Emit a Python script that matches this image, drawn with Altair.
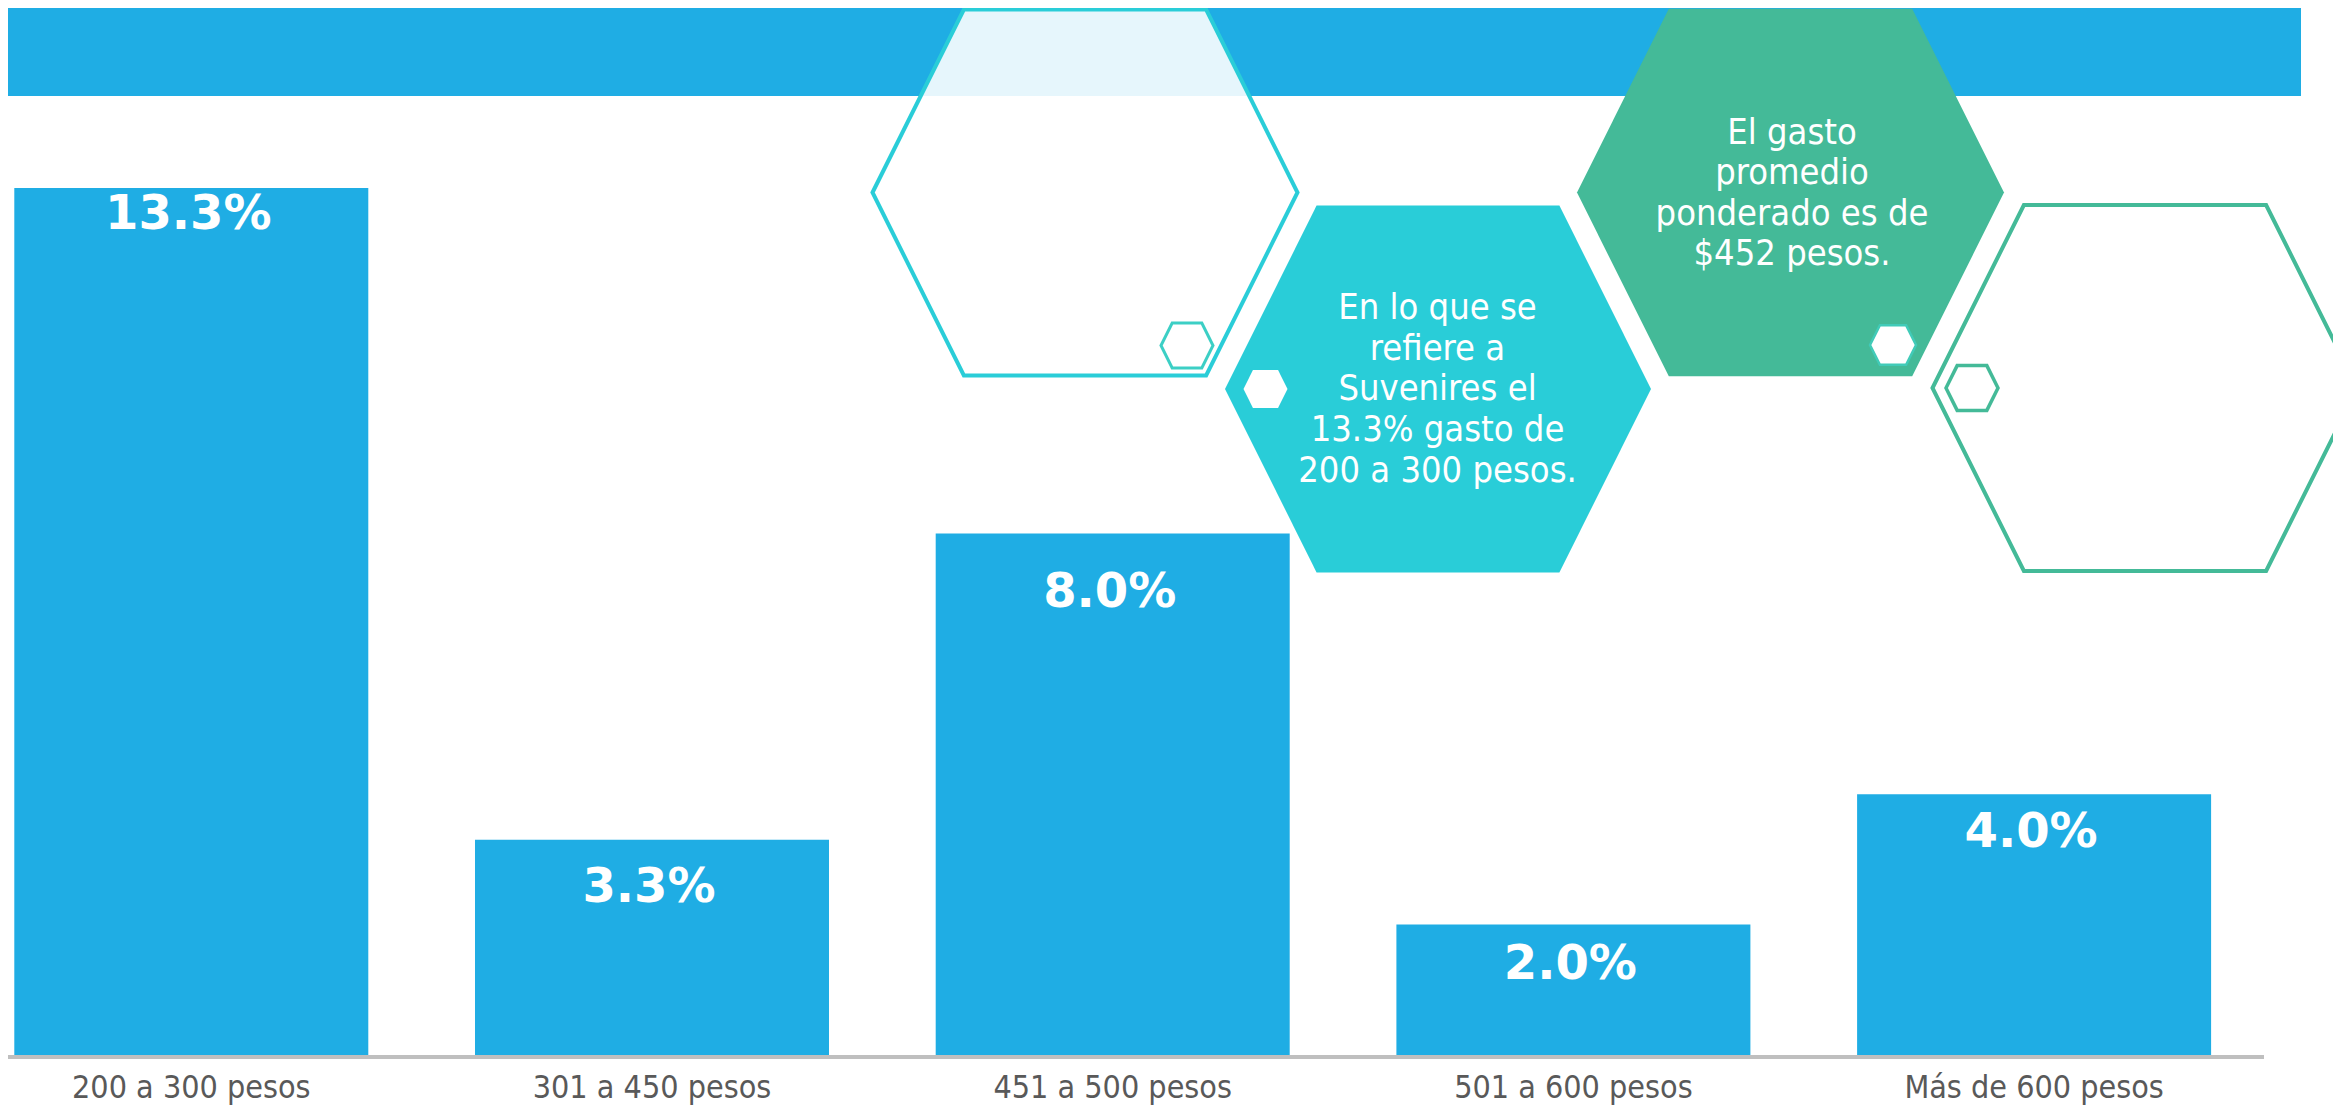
import altair as alt
import pandas as pd

# ---- data ----
categories = ["200 a 300 pesos", "301 a 450 pesos", "451 a 500 pesos",
              "501 a 600 pesos", "Más de 600 pesos"]
values = [13.3, 3.3, 8.0, 2.0, 4.0]
value_labels = ["13.3%", "3.3%", "8.0%", "2.0%", "4.0%"]

note_suvenires = ["En lo que se", "refiere a", "Suvenires el",
                  "13.3% gasto de", "200 a 300 pesos."]
note_promedio = ["El gasto", "promedio", "ponderado es de", "$452 pesos."]

# ---- layout / style constants ----
BLUE = "#1FADE4"
CYAN = "#29CDD8"
GREEN = "#44BA98"
label_drop = [41, 62, 74, 54, 53]   # px from bar top to value-label baseline
PLOT_W, PLOT_H = 2209.4, 1047
TOTAL_W, TOTAL_H = 2325, 1098
Y_MAX = 16.06
LABEL_FONT = "Tahoma, 'DejaVu Sans Condensed', 'Liberation Sans', Arial, sans-serif"
BOLD_FONT = "Verdana, 'DejaVu Sans', sans-serif"

HEX = "M-1,0L-0.57,-0.861L0.57,-0.861L1,0L0.57,0.861L-0.57,0.861Z"

bars_df = pd.DataFrame({
    "category": categories,
    "value": values,
    "label": value_labels,
    "drop": label_drop,
})

hex_df = pd.DataFrame({
    "cx":     [1077, 1430, 1782.5, 2137, 1179, 1257.5, 1885, 1964],
    "cy":     [184.5, 381, 184.5, 380, 337.5, 381, 337, 380],
    "w":      [425, 426, 427, 425, 52, 44, 46, 52],
    "fill":   ["#FFFFFF", CYAN, GREEN, "#FFFFFF", "#FFFFFF", "#FFFFFF", "#FFFFFF", "#FFFFFF"],
    "stroke": ["#2ACDD8", CYAN, GREEN, GREEN, "#3CCFC5", "#FFFFFF", "#41CBB8", GREEN],
    "sw":     [4, 0, 0, 4, 3, 0, 2.5, 3.5],
    "fo":     [0.89, 1, 1, 1, 1, 1, 1, 1],
})
hex_df["size"] = hex_df["w"] ** 2

one = pd.DataFrame({"k": [0]})

x_scale = alt.Scale(type="band", paddingInner=0.2316, paddingOuter=0.01367)
x_band = alt.X("category:N", sort=categories, axis=None, scale=x_scale)
y_scale = alt.Scale(domain=[0, Y_MAX], nice=False, zero=True)
y_lin = alt.Y("value:Q", axis=None, scale=y_scale)

banner = alt.Chart(one).mark_rect(color=BLUE).encode(
    x=alt.value(0), x2=alt.value(2293), y=alt.value(0), y2=alt.value(88))

bars = alt.Chart(bars_df).mark_bar(color=BLUE).encode(x=x_band, y=y_lin)

bar_labels = alt.Chart(bars_df).transform_calculate(
    label_at=f"datum.value - datum.drop * {Y_MAX} / {PLOT_H}"
).mark_text(
    color="white", font=BOLD_FONT, fontWeight="bold", fontSize=48,
    baseline="alphabetic", align="center", dx=-3
).encode(
    x=x_band,
    y=alt.Y("label_at:Q", axis=None, scale=y_scale),
    text="label:N")

hexes = alt.Chart(hex_df).mark_point(shape=HEX, filled=True, opacity=1).encode(
    x=alt.X("cx:Q", scale=None, axis=None),
    y=alt.Y("cy:Q", scale=None, axis=None),
    size=alt.Size("size:Q", scale=None, legend=None),
    fill=alt.Fill("fill:N", scale=None, legend=None),
    stroke=alt.Stroke("stroke:N", scale=None, legend=None),
    strokeWidth=alt.StrokeWidth("sw:Q", scale=None, legend=None),
    fillOpacity=alt.FillOpacity("fo:Q", scale=None, legend=None),
)

text_suv = alt.Chart(one).mark_text(
    text=note_suvenires, color="white", font=LABEL_FONT, fontSize=36,
    lineHeight=40.6, align="center", baseline="alphabetic"
).encode(x=alt.value(1429.5), y=alt.value(311.3))

text_prom = alt.Chart(one).mark_text(
    text=note_promedio, color="white", font=LABEL_FONT, fontSize=36,
    lineHeight=40.1, align="center", baseline="alphabetic"
).encode(x=alt.value(1784), y=alt.value(136.4))

axis_line = alt.Chart(one).mark_rule(color="#BFBFBF", strokeWidth=4).encode(
    x=alt.value(0), x2=alt.value(2256), y=alt.value(1049))

x_labels = alt.Chart(bars_df).mark_text(
    color="#595959", font=LABEL_FONT, fontSize=32,
    align="center", baseline="alphabetic"
).encode(x=x_band, y=alt.value(1090), text="category:N")

chart = alt.layer(
    banner, bars, bar_labels, hexes, text_suv, text_prom, axis_line, x_labels
).resolve_scale(
    x="independent", y="independent"
).properties(
    width=PLOT_W, height=PLOT_H,
    padding={"left": 0, "top": 0, "right": TOTAL_W - PLOT_W, "bottom": TOTAL_H - PLOT_H},
    autosize=alt.AutoSizeParams(type="none"),
    background="white",
).configure_view(stroke=None)

chart.save("out.html", embed_options={"renderer": "svg", "actions": False})
